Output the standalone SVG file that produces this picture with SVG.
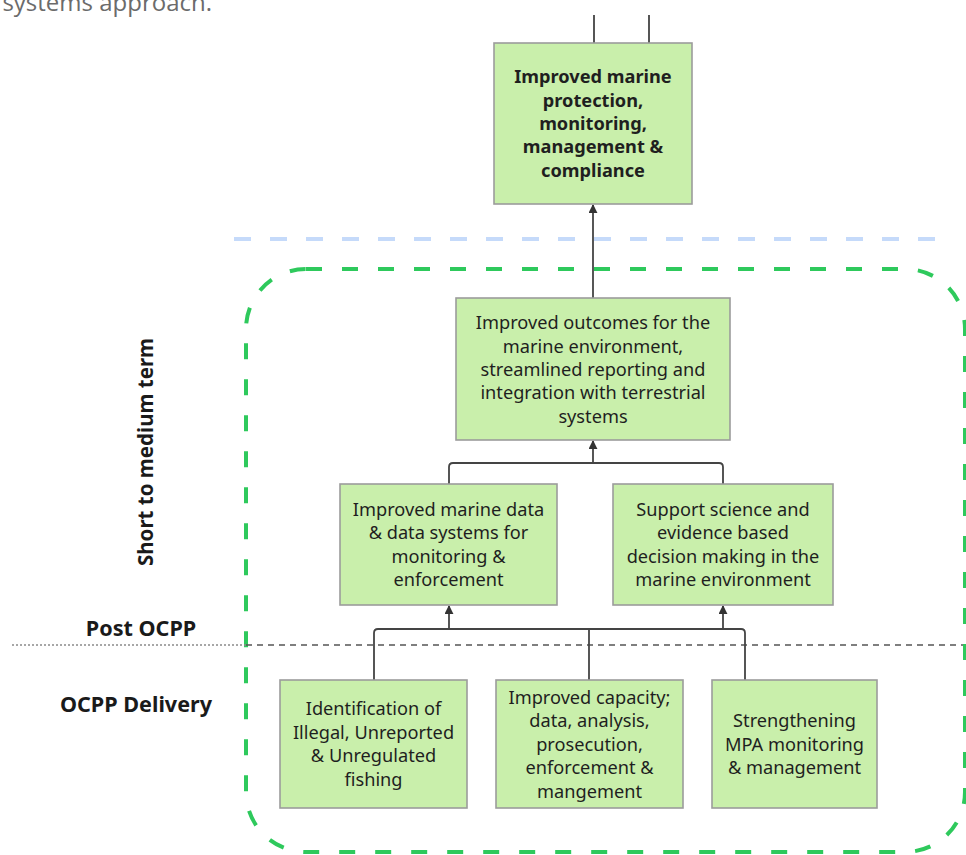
<svg xmlns="http://www.w3.org/2000/svg" width="966" height="855" viewBox="0 0 966 855">
<style>
.box{fill:#c9efab;stroke:#9c9c9c;stroke-width:1.6}
.t{font-family:"Noto Sans","Open Sans",sans-serif;font-size:18.2px;fill:#1f1f1f;text-anchor:middle}
.b{font-weight:bold;font-size:18.2px}
.lbl{font-family:"Noto Sans","Open Sans",sans-serif;font-size:21.6px;font-weight:bold;fill:#1a1a1a;text-anchor:middle}
.c{fill:none;stroke:#444;stroke-width:1.8}
</style>
<defs>
<marker id="ah" viewBox="0 0 10 10" refX="9" refY="5" markerWidth="9" markerHeight="9" markerUnits="userSpaceOnUse" orient="auto">
<path d="M0,0 L10,5 L0,10 z" fill="#333"/>
</marker>
</defs>
<rect width="966" height="855" fill="#fff"/>
<text x="212" y="11" font-family="'Open Sans',sans-serif" font-size="24" fill="#6b6b6b" text-anchor="end">systems approach.</text>

<g id="guides">
<line x1="234" y1="239" x2="953" y2="239" stroke="#c5dafa" stroke-width="4" stroke-dasharray="17 19"/>
<rect x="246" y="269" width="719" height="583" rx="60" ry="60" fill="none" stroke="#2ec95c" stroke-width="4" stroke-dasharray="16 20"/>
<line x1="12" y1="645" x2="246" y2="645" stroke="#8a8a8a" stroke-width="1.3" stroke-dasharray="2 2"/>
<line x1="246" y1="645" x2="963" y2="645" stroke="#555" stroke-width="1.6" stroke-dasharray="6 5"/>
</g>

<g id="labels">
<text class="lbl" font-size="20.5" style="font-size:20.5px" transform="translate(153,452) rotate(-90)">Short to medium term</text>
<text class="lbl" x="141" y="636">Post OCPP</text>
<text class="lbl" x="136" y="712">OCPP Delivery</text>
</g>

<g id="connectors">
<path class="c" d="M594,15 V43 M649,15 V43"/>
<path class="c" d="M593,298 V205" marker-end="url(#ah)"/>
<path class="c" d="M449,485 V467 Q449,463 453,463 H719 Q723,463 723,467 V485"/>
<path class="c" d="M593,463 V441" marker-end="url(#ah)"/>
<path class="c" d="M374,680 V633 Q374,629 378,629 H741 Q745,629 745,633 V680"/>
<path class="c" d="M589,680 V629"/>
<path class="c" d="M449,629 V606" marker-end="url(#ah)"/>
<path class="c" d="M723,629 V606" marker-end="url(#ah)"/>
</g>

<g id="n-top">
<rect class="box" x="494" y="43" width="198" height="161"/>
<text class="t b" x="593" y="83">Improved marine</text>
<text class="t b" x="593" y="107">protection,</text>
<text class="t b" x="593" y="130">monitoring,</text>
<text class="t b" x="593" y="153">management &amp;</text>
<text class="t b" x="593" y="177">compliance</text>
</g>

<g id="n-outcomes">
<rect class="box" x="456" y="298" width="274" height="142"/>
<text class="t" x="593" y="329">Improved outcomes for the</text>
<text class="t" x="593" y="353">marine environment,</text>
<text class="t" x="593" y="376">streamlined reporting and</text>
<text class="t" x="593" y="399">integration with terrestrial</text>
<text class="t" x="593" y="423">systems</text>
</g>

<g id="n-data">
<rect class="box" x="340" y="484" width="217" height="121"/>
<text class="t" x="448.5" y="516">Improved marine data</text>
<text class="t" x="448.5" y="539">&amp; data systems for</text>
<text class="t" x="448.5" y="563">monitoring &amp;</text>
<text class="t" x="448.5" y="586">enforcement</text>
</g>

<g id="n-science">
<rect class="box" x="613" y="484" width="220" height="121"/>
<text class="t" x="723" y="516">Support science and</text>
<text class="t" x="723" y="539">evidence based</text>
<text class="t" x="723" y="563">decision making in the</text>
<text class="t" x="723" y="586">marine environment</text>
</g>

<g id="n-iuu">
<rect class="box" x="280" y="680" width="187" height="128"/>
<text class="t" x="373.5" y="715">Identification of</text>
<text class="t" x="373.5" y="739">Illegal, Unreported</text>
<text class="t" x="373.5" y="762">&amp; Unregulated</text>
<text class="t" x="373.5" y="786">fishing</text>
</g>

<g id="n-capacity">
<rect class="box" x="496" y="680" width="187" height="128"/>
<text class="t" x="589.5" y="704">Improved capacity;</text>
<text class="t" x="589.5" y="727">data, analysis,</text>
<text class="t" x="589.5" y="751">prosecution,</text>
<text class="t" x="589.5" y="774">enforcement &amp;</text>
<text class="t" x="589.5" y="798">mangement</text>
</g>

<g id="n-mpa">
<rect class="box" x="712" y="680" width="165" height="128"/>
<text class="t" x="794.5" y="727">Strengthening</text>
<text class="t" x="794.5" y="751">MPA monitoring</text>
<text class="t" x="794.5" y="774">&amp; management</text>
</g>
</svg>
